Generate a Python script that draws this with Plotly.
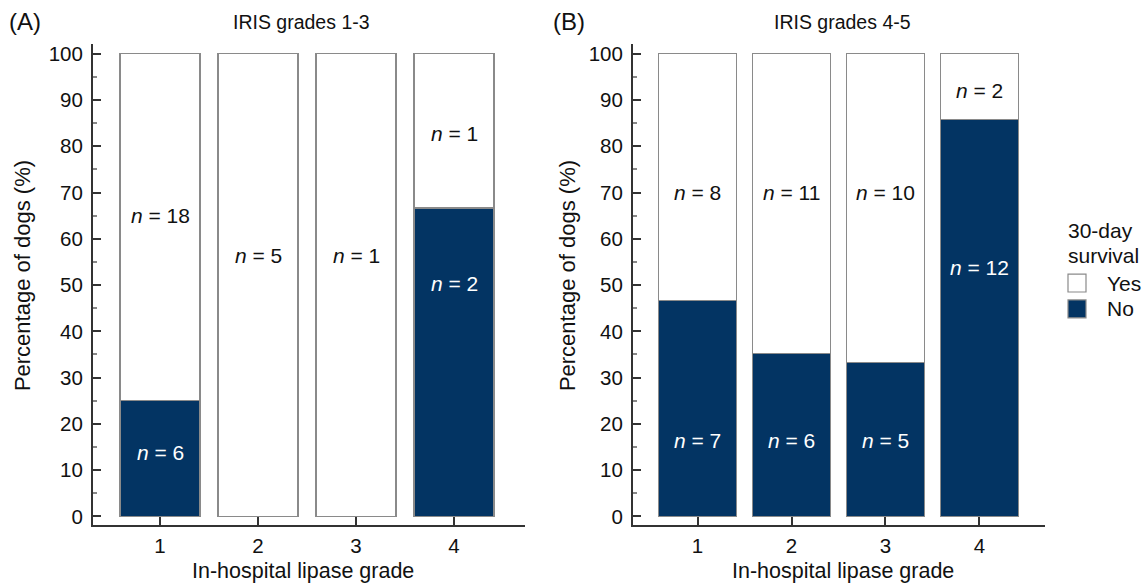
import plotly.graph_objects as go

grades = [1, 2, 3, 4]
tick_labels = ["1", "2", "3", "4"]

# Panel A: IRIS grades 1-3 (counts)
a_no_n = [6, 0, 0, 2]
a_yes_n = [18, 5, 1, 1]
# Panel B: IRIS grades 4-5 (counts)
b_no_n = [7, 6, 5, 12]
b_yes_n = [8, 11, 10, 2]

a_no_pct = [100 * n / (n + y) for n, y in zip(a_no_n, a_yes_n)]
a_yes_pct = [100 * y / (n + y) for n, y in zip(a_no_n, a_yes_n)]
b_no_pct = [100 * n / (n + y) for n, y in zip(b_no_n, b_yes_n)]
b_yes_pct = [100 * y / (n + y) for n, y in zip(b_no_n, b_yes_n)]

# label vertical placement (in % units), as seen in the picture
a_yes_label_y = [65, 56.4, 56.4, 82.8]
a_no_label_y = [13.9, None, None, 50.4]
b_yes_label_y = [70, 70, 70, 92]
b_no_label_y = [16.5, 16.5, 16.5, 53.7]

NAVY = "#033463"
EDGE = "#8a8a8a"
AX = "#333333"
TXT = "#111111"
FONT = "Liberation Sans, Arial, sans-serif"
W, H = 1146, 585

fig = go.Figure()

def add_panel(no_pct, yes_pct, xa, ya, width):
    fig.add_trace(go.Bar(x=grades, y=no_pct, name="No", marker=dict(color=NAVY, line=dict(color=EDGE, width=1.2)),
                         width=width, xaxis=xa, yaxis=ya, showlegend=False))
    fig.add_trace(go.Bar(x=grades, y=yes_pct, name="Yes", marker=dict(color="white", line=dict(color=EDGE, width=1.2)),
                         width=width, xaxis=xa, yaxis=ya, showlegend=False))

add_panel(a_no_pct, a_yes_pct, "x", "y", 0.816)
add_panel(b_no_pct, b_yes_pct, "x2", "y2", 0.835)

ydom = [1 - 527 / H, 1 - 42 / H]
axis_common = dict(showline=True, linecolor=AX, linewidth=2, ticks="inside", ticklen=8, tickwidth=1.5,
                   tickcolor=AX, showgrid=False, zeroline=False,
                   tickfont=dict(family=FONT, size=20.5, color=TXT))

fig.update_layout(
    width=W, height=H, margin=dict(l=0, r=0, t=0, b=0),
    paper_bgcolor="white", plot_bgcolor="white", barmode="stack", showlegend=False,
    font=dict(family=FONT, size=21, color=TXT),
    xaxis=dict(domain=[93 / W, 525 / W], range=[0.316, 4.724], tickvals=grades, ticktext=tick_labels,
               anchor="y", ticklabelstandoff=1, **axis_common),
    yaxis=dict(domain=ydom, range=[-1.93, 102.15], tickvals=list(range(0, 101, 10)), anchor="x",
               minor=dict(ticks="inside", dtick=5, ticklen=4, tickcolor="#888888"),
               ticklabelstandoff=4, **axis_common),
    xaxis2=dict(domain=[633 / W, 1045 / W], range=[0.313, 4.698], tickvals=grades, ticktext=tick_labels,
                anchor="y2", ticklabelstandoff=1, **axis_common),
    yaxis2=dict(domain=ydom, range=[-1.93, 102.15], tickvals=list(range(0, 101, 10)), anchor="x2",
                minor=dict(ticks="inside", dtick=5, ticklen=4, tickcolor="#888888"),
                ticklabelstandoff=4, **axis_common),
)

ann = []
def lab(x, y, text, color, xref, yref):
    ann.append(dict(x=x, y=y, xref=xref, yref=yref, text=text, showarrow=False,
                    font=dict(family=FONT, size=21, color=color)))

for g, n, yy in zip(grades, a_yes_n, a_yes_label_y):
    lab(g, yy, f"<i>n</i> = {n}", TXT, "x", "y")
for g, n, yy in zip(grades, a_no_n, a_no_label_y):
    if yy is not None:
        lab(g, yy, f"<i>n</i> = {n}", "white", "x", "y")
for g, n, yy in zip(grades, b_yes_n, b_yes_label_y):
    lab(g, yy, f"<i>n</i> = {n}", TXT, "x2", "y2")
for g, n, yy in zip(grades, b_no_n, b_no_label_y):
    lab(g, yy, f"<i>n</i> = {n}", "white", "x2", "y2")

def paper_text(px, py, text, size, angle=0, xanchor="center"):
    ann.append(dict(x=px / W, y=1 - py / H, xref="paper", yref="paper", text=text, showarrow=False,
                    textangle=angle, xanchor=xanchor, yanchor="middle",
                    font=dict(family=FONT, size=size, color=TXT)))

paper_text(301, 20, "IRIS grades 1-3", 19.5)
paper_text(842, 20, "IRIS grades 4-5", 19.5)
paper_text(7, 20, "(A)", 24, xanchor="left")
paper_text(551, 20, "(B)", 24, xanchor="left")
paper_text(22, 276, "Percentage of dogs (%)", 22, angle=-90)
paper_text(567, 276, "Percentage of dogs (%)", 22, angle=-90)
paper_text(303, 573, "In-hospital lipase grade", 21.5)
paper_text(843, 573, "In-hospital lipase grade", 21.5)

# legend (drawn manually)
paper_text(1066, 230, "30-day", 21, xanchor="left")
paper_text(1066, 255, "survival", 21, xanchor="left")
paper_text(1105, 283, "Yes", 21, xanchor="left")
paper_text(1105, 309, "No", 21, xanchor="left")
shapes = [
    dict(type="rect", xref="paper", yref="paper", x0=1068 / W, x1=1086 / W, y0=1 - 292 / H, y1=1 - 274 / H,
         fillcolor="white", line=dict(color=EDGE, width=1.2)),
    dict(type="rect", xref="paper", yref="paper", x0=1068 / W, x1=1086 / W, y0=1 - 318 / H, y1=1 - 300 / H,
         fillcolor=NAVY, line=dict(color=EDGE, width=1.2)),
]

fig.update_layout(annotations=ann, shapes=shapes)
fig.write_html("out.html", config={"displayModeBar": False},
               post_script="document.body.style.margin='0';document.body.style.overflow='hidden';")
